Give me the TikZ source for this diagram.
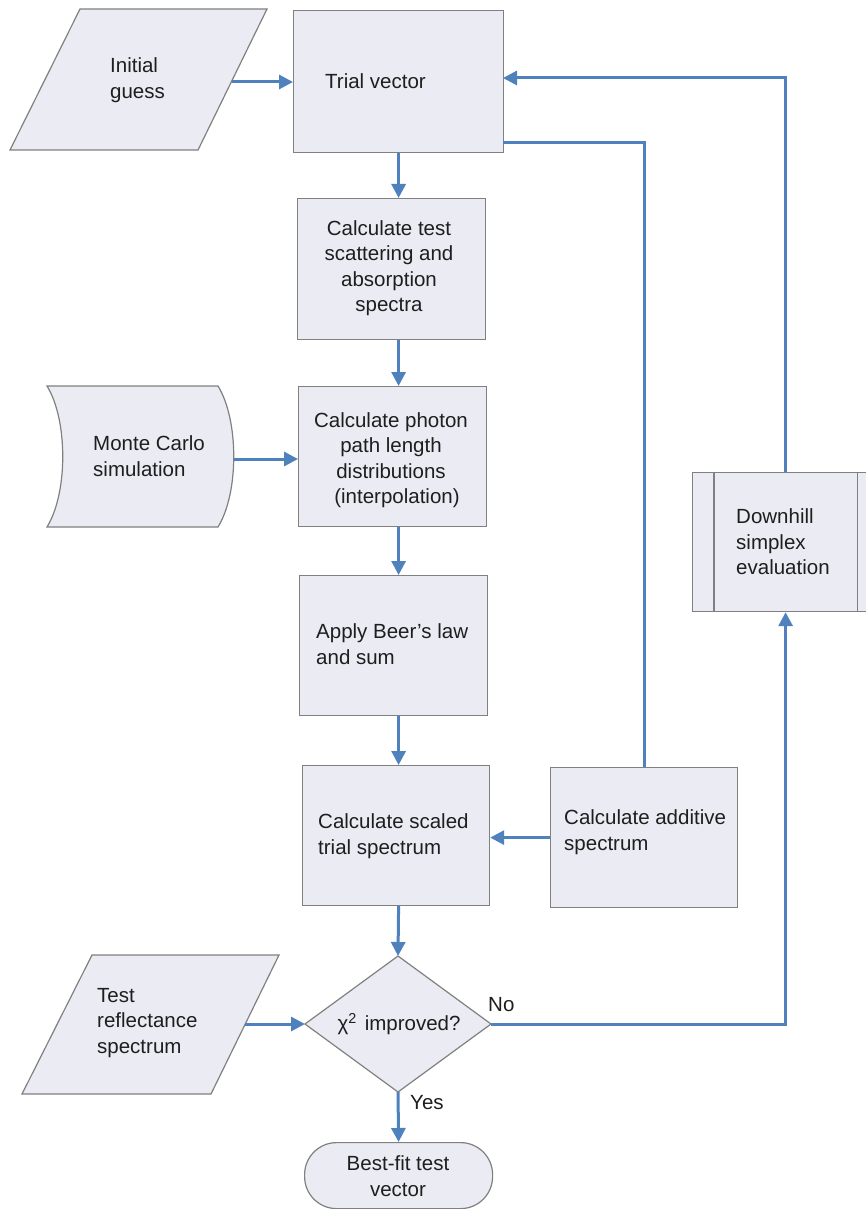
\documentclass[tikz,border=0pt]{standalone}
\usepackage{fontspec}
\setmainfont{Liberation Sans}
\usetikzlibrary{arrows.meta}
\definecolor{fillc}{RGB}{235,236,243}
\definecolor{edgec}{RGB}{128,128,128}
\definecolor{arrc}{RGB}{79,129,189}
\definecolor{textc}{RGB}{30,30,30}
\begin{document}
\begin{tikzpicture}[x=1pt,y=-1pt,
  shapebox/.style={draw=edgec, fill=fillc, line width=1.2pt},
  box/.style={shapebox, rectangle, inner sep=0pt, anchor=north west},
  txt/.style={font=\fontsize{20.5}{25.5}\selectfont, align=left, inner sep=0pt, text=textc},
  ctxt/.style={txt, align=center},
  arr/.style={draw=arrc, line width=3pt, -{Triangle[length=14pt,width=14pt]}},
  wire/.style={draw=arrc, line width=3pt},
]
\useasboundingbox (0,0) rectangle (866,1209);
\fill[white] (0,0) rectangle (866,1209);

% ---- shapes ----
\node[box, minimum width=210pt, minimum height=142pt] (tv) at (293,10) {};
\node[box, minimum width=188pt, minimum height=141pt] (b2) at (297,198) {};
\node[box, minimum width=188pt, minimum height=140pt] (b3) at (298,386) {};
\node[box, minimum width=188pt, minimum height=140pt] (b4) at (299,575) {};
\node[box, minimum width=187pt, minimum height=140pt] (b5) at (302,765) {};
\node[box, minimum width=187pt, minimum height=140pt] (ad) at (550,767) {};
\node[box, minimum width=186pt, minimum height=139pt] (dh) at (692,472) {};
\draw[draw=edgec, line width=1.2pt] ([xshift=22pt]dh.north west) -- ([xshift=22pt]dh.south west);
\draw[draw=edgec, line width=1.2pt] ([xshift=-22pt]dh.north east) -- ([xshift=-22pt]dh.south east);
\node[box, rounded corners=32pt, minimum width=188pt, minimum height=66pt] (bf) at (304,1142) {};

% Initial guess (parallelogram)
\draw[shapebox] (80,9) -- (267,9) -- (198,150) -- (10,150) -- cycle;
\coordinate (igE) at (232,82);
% Test reflectance spectrum (parallelogram)
\draw[shapebox] (92,955) -- (279,955) -- (211,1094) -- (22,1094) -- cycle;
\coordinate (trE) at (245,1024);
% Monte Carlo (stored data)
\draw[shapebox] (47,386) -- (218,386) .. controls (239,420) and (239,493) .. (218,527)
  -- (47,527) .. controls (68,493) and (68,420) .. (47,386) -- cycle;
\coordinate (mcE) at (234,459);
% Decision diamond
\draw[shapebox] (398,956) -- (491,1024) -- (398,1092) -- (305,1024) -- cycle;
\coordinate (dN) at (398,956);
\coordinate (dE) at (491,1024);
\coordinate (dS) at (398,1092);
\coordinate (dW) at (305,1024);

% ---- texts ----
\node[txt, anchor=west] (tig) at (110,80) {Initial\\guess};
\node[txt, anchor=west] (ttv) at (325,81) {Trial vector};
\node[ctxt] (tb2) at (389,268) {Calculate test\\scattering and\\absorption\\spectra};
\node[ctxt] (tb3) at (391,460) {Calculate photon\\path length\\distributions\\\hspace*{12pt}(interpolation)};
\node[txt, anchor=west] (tmc) at (93,456) {Monte Carlo\\simulation};
\node[txt, anchor=west] (tb4) at (316,644) {Apply Beer’s law\\and sum};
\node[txt, anchor=west] (tb5) at (318,836) {Calculate scaled\\trial spectrum};
\node[txt, anchor=west] (tad) at (564,832) {Calculate additive\\spectrum};
\node[txt, anchor=west] (tdh) at (736,542) {Downhill\\simplex\\evaluation};
\node[txt, anchor=west] (ttr) at (97,1023) {Test\\reflectance\\spectrum};
\node[ctxt] (tdi) at (399,1024) {χ\textsuperscript{2}\hspace{8pt}improved?};
\node[ctxt] (tbf) at (398,1176) {Best-fit test\\vector};
\node[txt, anchor=west] (tno) at (488,1005) {No};
\node[txt, anchor=west] (tyes) at (410,1103) {Yes};

% ---- connectors ----
\coordinate (tvhigh) at (503,78);
\coordinate (tvlow) at (503,143);
\draw[arr] (igE) -- (igE -| tv.west);
\draw[arr] (tv.south) -- (tv.south |- b2.north);
\draw[arr] (tv.south |- b2.south) -- (tv.south |- b3.north);
\draw[arr] (mcE) -- (mcE -| b3.west);
\draw[arr] (tv.south |- b3.south) -- (tv.south |- b4.north);
\draw[arr] (tv.south |- b4.south) -- (tv.south |- b5.north);
\draw[arr] (ad.west) -- (ad.west -| b5.east);
\draw[wire] (ad.north) |- (tvlow);
\draw[arr] (dh.north) |- (tvhigh);
\draw[arr] (tv.south |- b5.south) -- (dN);
\draw[arr] (trE) -- (dW);
\draw[arr] (dE) -| (dh.south);
\draw[arr] (dS) -- (bf.north);
\end{tikzpicture}
\end{document}
